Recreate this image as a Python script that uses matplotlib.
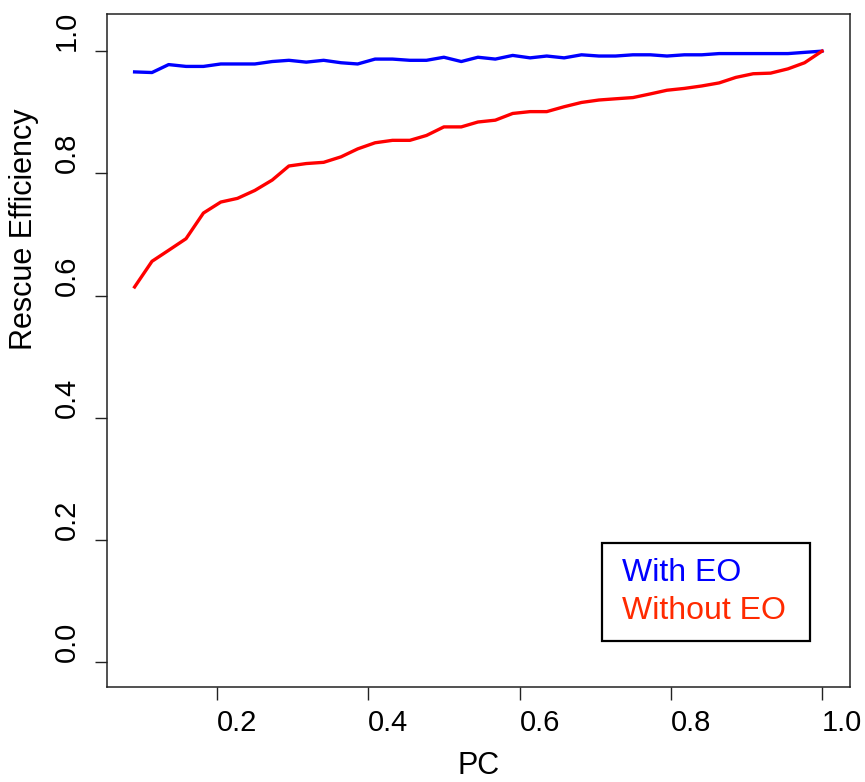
import matplotlib
matplotlib.use("Agg")
import matplotlib.pyplot as plt
from matplotlib.patches import Rectangle

# -----------------------------
# Daten
# -----------------------------
pc = [0.091, 0.114, 0.136, 0.159, 0.182, 0.205, 0.227, 0.250, 0.273, 0.295,
      0.318, 0.341, 0.364, 0.386, 0.409, 0.432, 0.455, 0.477, 0.500, 0.523,
      0.545, 0.568, 0.591, 0.614, 0.636, 0.659, 0.682, 0.705, 0.727, 0.750,
      0.773, 0.795, 0.818, 0.841, 0.864, 0.886, 0.909, 0.932, 0.955, 0.977, 1.000]

with_eo = [0.966, 0.965, 0.978, 0.975, 0.975, 0.979, 0.979, 0.979, 0.983, 0.985,
           0.982, 0.985, 0.981, 0.979, 0.987, 0.987, 0.985, 0.985, 0.990, 0.983,
           0.990, 0.987, 0.993, 0.989, 0.992, 0.989, 0.994, 0.992, 0.992, 0.994,
           0.994, 0.992, 0.994, 0.994, 0.996, 0.996, 0.996, 0.996, 0.996, 0.998, 1.000]

without_eo = [0.614, 0.656, 0.674, 0.693, 0.735, 0.753, 0.759, 0.772, 0.789, 0.812,
              0.816, 0.818, 0.827, 0.840, 0.850, 0.854, 0.854, 0.862, 0.876, 0.876,
              0.884, 0.887, 0.898, 0.901, 0.901, 0.909, 0.916, 0.920, 0.922, 0.924,
              0.930, 0.936, 0.939, 0.943, 0.948, 0.957, 0.963, 0.964, 0.971, 0.981, 1.000]

x_ticks = [0.2, 0.4, 0.6, 0.8, 1.0]
y_ticks = [0.0, 0.2, 0.4, 0.6, 0.8, 1.0]

plt.rcParams["font.family"] = ["Liberation Sans", "DejaVu Sans"]

# -----------------------------
# Plot
# -----------------------------
fig = plt.figure(figsize=(8.65, 7.82), dpi=100)
ax = fig.add_axes([0.1237, 0.1215, 0.8584, 0.8606])

ax.plot(pc, with_eo, color="#0000ff", linewidth=2.4)
ax.plot(pc, without_eo, color="#ff0000", linewidth=2.4)

ax.set_xlim(0.0545, 1.0364)
ax.set_ylim(-0.0408, 1.0608)

ax.set_xticks(x_ticks)
ax.set_xticklabels([f"{v:.1f}" for v in x_ticks], ha="left")
ax.set_yticks(y_ticks)
ax.set_yticklabels([f"{v:.1f}" for v in y_ticks], rotation=90, va="bottom")

ax.tick_params(axis="both", direction="out", length=9, width=1.0,
               labelsize=21, color="#222222")
ax.tick_params(axis="x", pad=7)
ax.tick_params(axis="y", pad=10)

for s in ax.spines.values():
    s.set_linewidth(1.1)
    s.set_color("#222222")

ax.set_xlabel("PC", fontsize=22, labelpad=10)
# y-Label faengt in der Mitte an (wie im Original)
ax.text(-0.112, 0.5, "Rescue Efficiency", transform=ax.transAxes,
        rotation=90, fontsize=22, ha="center", va="bottom")

# Legende als Kasten mit farbigem Text
ax.add_patch(Rectangle((0.6667, 0.0684), 0.2801, 0.1456, transform=ax.transAxes,
                       fill=False, edgecolor="black", linewidth=1.6, zorder=5))
ax.text(0.6936, 0.1694, "With EO", transform=ax.transAxes, color="#0000ff",
        fontsize=23, ha="left", va="center")
ax.text(0.6936, 0.1129, "Without EO", transform=ax.transAxes, color="#ff2a00",
        fontsize=23, ha="left", va="center")

plt.savefig("out.png", dpi=100)
